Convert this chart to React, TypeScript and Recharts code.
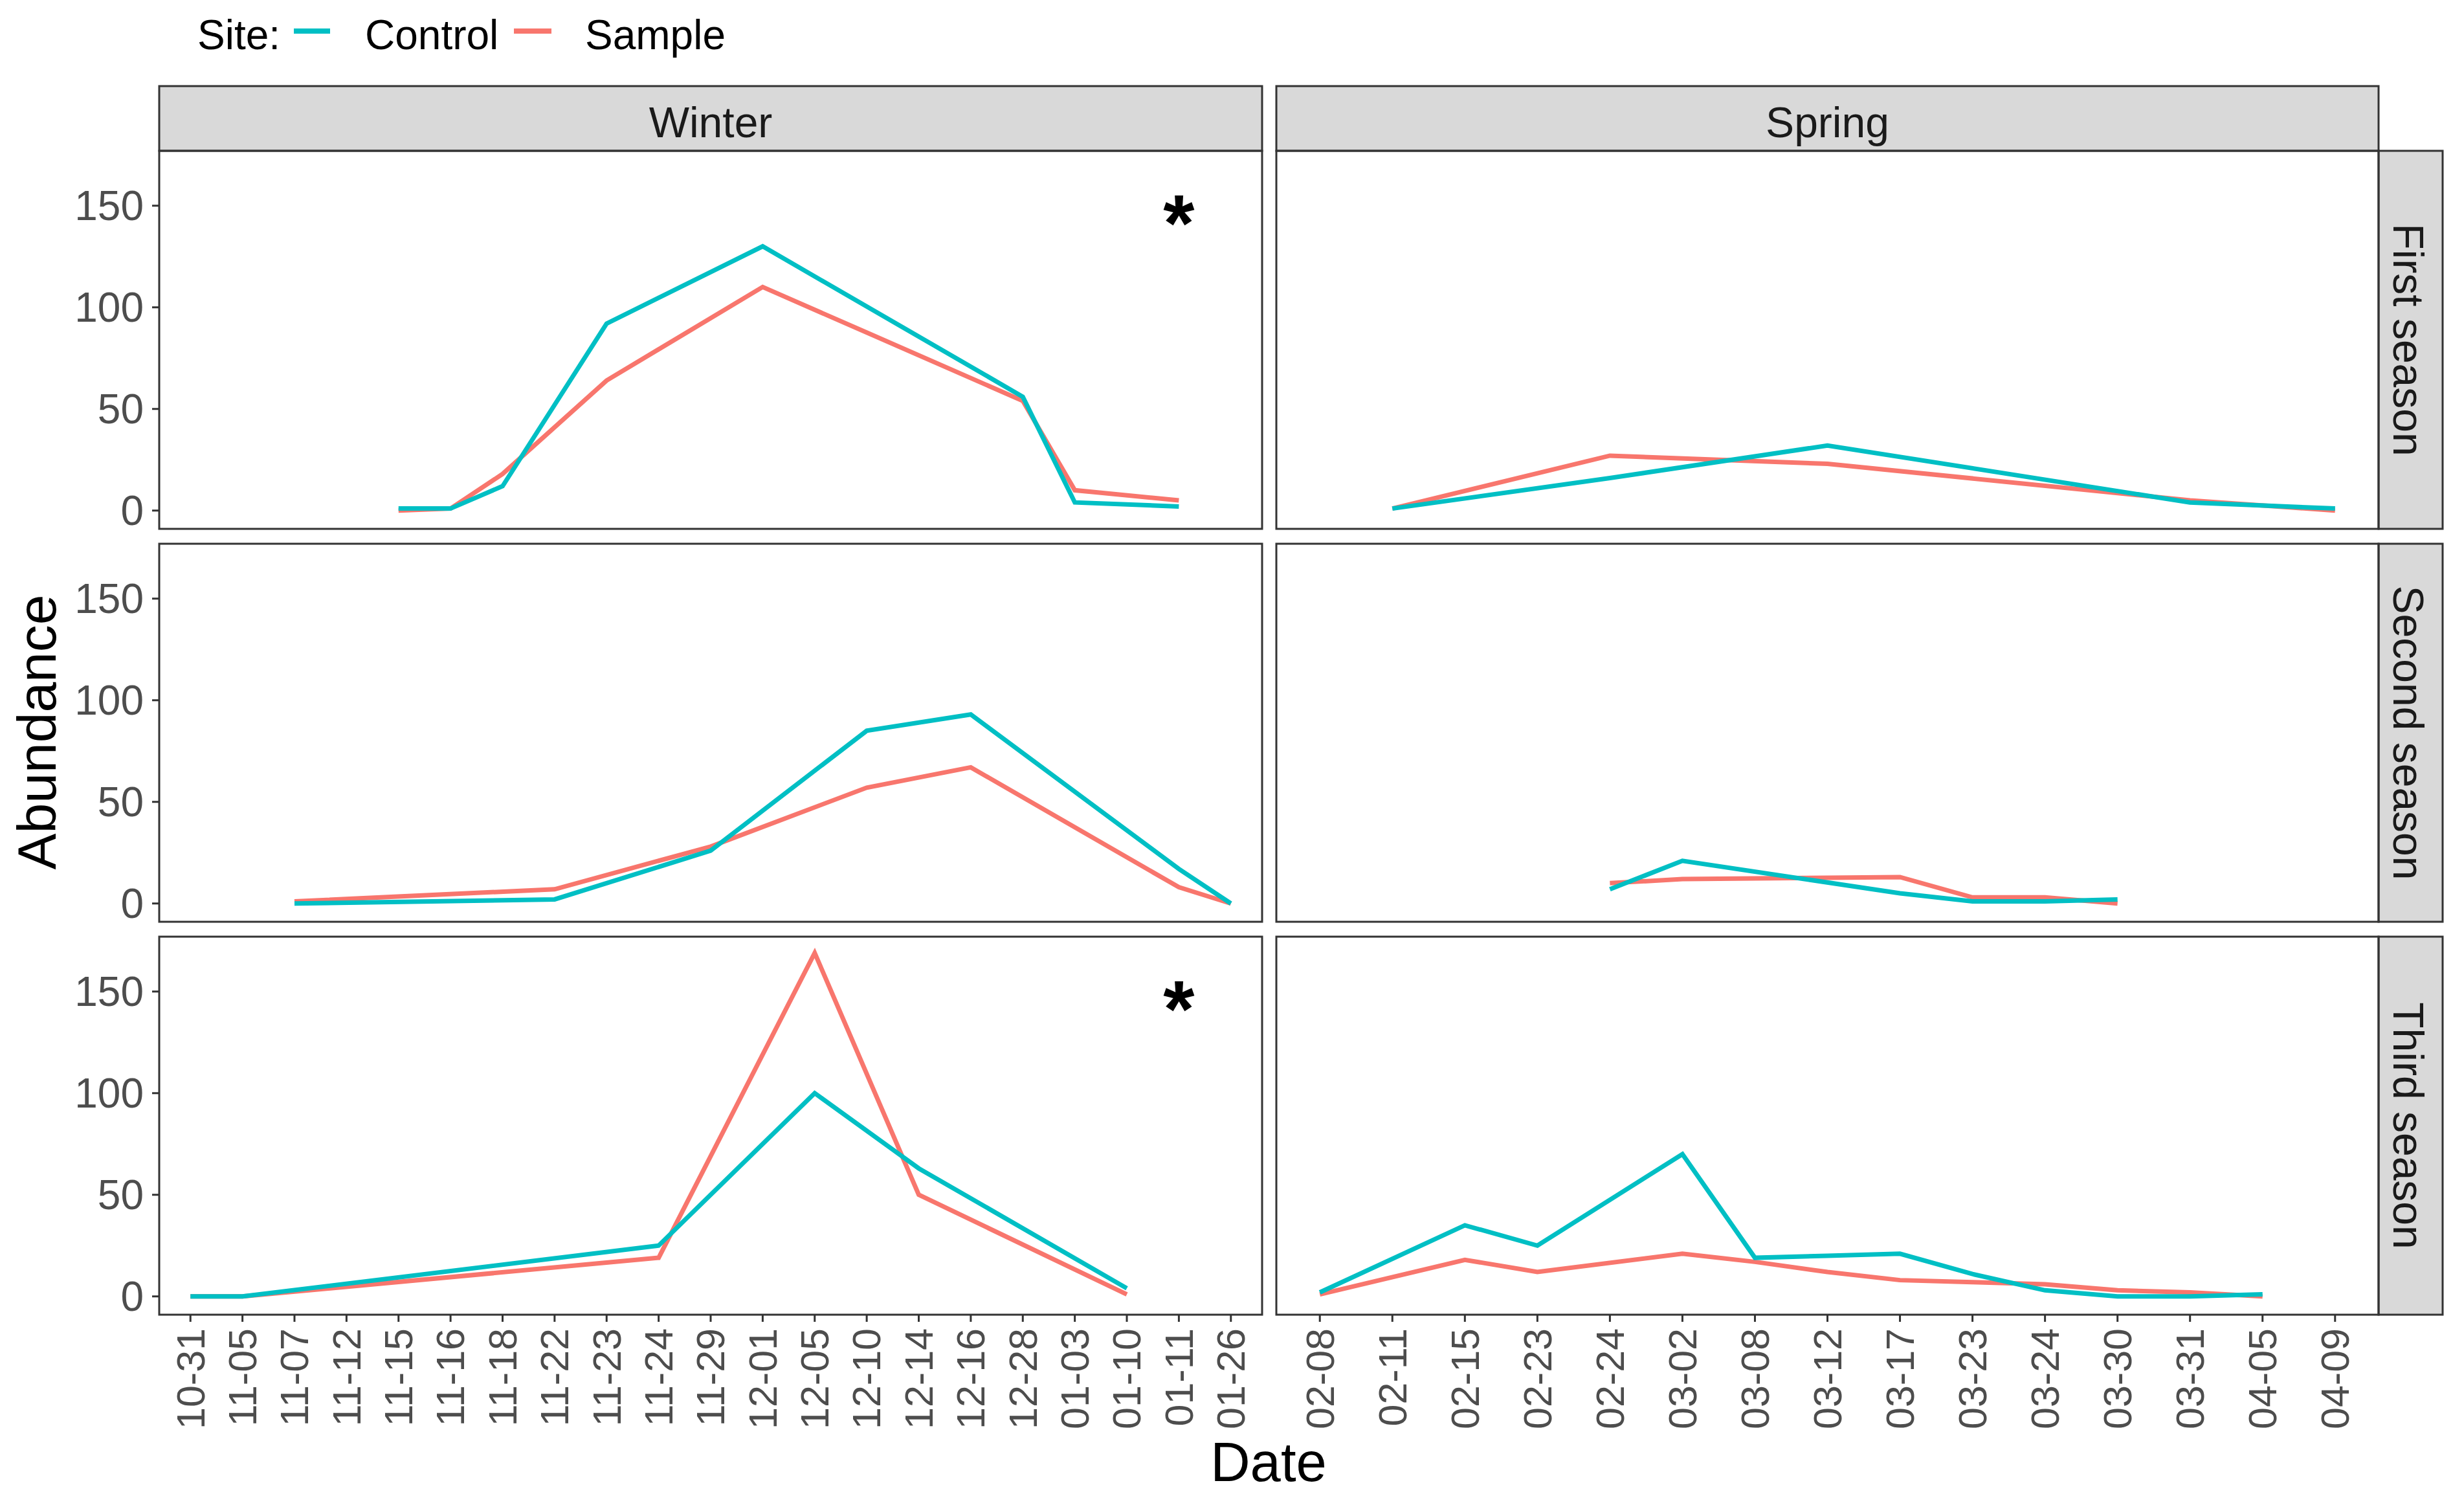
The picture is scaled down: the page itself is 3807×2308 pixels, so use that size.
import React from "react"
import { LineChart, Line, XAxis, YAxis, ReferenceDot } from "recharts"

// x categories for each column
const winterDates = ["10-31", "11-05", "11-07", "11-12", "11-15", "11-16", "11-18", "11-22", "11-23", "11-24", "11-29", "12-01", "12-05", "12-10", "12-14", "12-16", "12-28", "01-03", "01-10", "01-11", "01-26"]
const springDates = ["02-08", "02-11", "02-15", "02-23", "02-24", "03-02", "03-08", "03-12", "03-17", "03-23", "03-24", "03-30", "03-31", "04-05", "04-09"]

const yTicks = [0, 50, 100, 150]
const columnLabels = ["Winter", "Spring"]
const rowLabels = ["First season", "Second season", "Third season"]

// Winter, first season
const winterFirstDates = ["11-15", "11-16", "11-18", "11-23", "12-01", "12-28", "01-03", "01-11"]
const winterFirstControl = [1, 1, 12, 92, 130, 56, 4, 2]
const winterFirstSample = [0, 1, 18, 64, 110, 54, 10, 5]

// Winter, second season
const winterSecondDates = ["11-07", "11-22", "11-29", "12-10", "12-16", "01-11", "01-26"]
const winterSecondControl = [0, 2, 26, 85, 93, 17, 0]
const winterSecondSample = [1, 7, 28, 57, 67, 8, 0]

// Winter, third season
const winterThirdDates = ["10-31", "11-05", "11-24", "12-05", "12-14", "01-10"]
const winterThirdControl = [0, 0, 25, 100, 63, 4]
const winterThirdSample = [0, 0, 19, 169, 50, 1]

// Spring, first season
const springFirstDates = ["02-11", "02-24", "03-12", "03-31", "04-09"]
const springFirstControl = [1, 16, 32, 4, 1]
const springFirstSample = [1, 27, 23, 5, 0]

// Spring, second season
const springSecondDates = ["02-24", "03-02", "03-17", "03-23", "03-24", "03-30"]
const springSecondControl = [7, 21, 5, 1, 1, 2]
const springSecondSample = [10, 12, 13, 3, 3, 0]

// Spring, third season
const springThirdDates = ["02-08", "02-15", "02-23", "03-02", "03-08", "03-12", "03-17", "03-23", "03-24", "03-30", "03-31", "04-05"]
const springThirdControl = [2, 35, 25, 70, 19, 20, 21, 11, 3, 0, 0, 1]
const springThirdSample = [1, 18, 12, 21, 17, 12, 8, 7, 6, 3, 2, 0]

// panels with an asterisk (winter column)
const starDate = "01-11"
const starValue = 146

const CONTROL = "#00BFC4"
const SAMPLE = "#F8766D"
const FONT = '"Liberation Sans", Arial, sans-serif'

const panelLeft = [246, 1972]
const panelRight = [1950, 3675]
const panelTop = [233, 840, 1447]
const PANEL_H = 584
const XAXIS_H = 210
const PAD_BOTTOM = 40
const STRIP_TOP = 133
const STRIP_RIGHT = 3774

function buildData(axisDates, dates, control, sample) {
  return axisDates.map((d, i) => {
    const k = dates.indexOf(d)
    return { i, date: d, control: k >= 0 ? control[k] : null, sample: k >= 0 ? sample[k] : null }
  })
}

const panels = [
  { row: 0, col: 0, data: buildData(winterDates, winterFirstDates, winterFirstControl, winterFirstSample), star: true },
  { row: 0, col: 1, data: buildData(springDates, springFirstDates, springFirstControl, springFirstSample), star: false },
  { row: 1, col: 0, data: buildData(winterDates, winterSecondDates, winterSecondControl, winterSecondSample), star: false },
  { row: 1, col: 1, data: buildData(springDates, springSecondDates, springSecondControl, springSecondSample), star: false },
  { row: 2, col: 0, data: buildData(winterDates, winterThirdDates, winterThirdControl, winterThirdSample), star: true },
  { row: 2, col: 1, data: buildData(springDates, springThirdDates, springThirdControl, springThirdSample), star: false },
]

function XTick(props) {
  const { x, y, payload, labels } = props
  return (
    <g transform={`translate(${x},${y})`}>
      <text transform="rotate(-90)" x={-8} y={0} dy="0.35em" textAnchor="end" fontSize={61} fill="#4D4D4D" fontFamily={FONT}>
        {labels[payload.value]}
      </text>
    </g>
  )
}

function Star(props) {
  const { cx, cy } = props
  if (cx == null || cy == null) return null
  return (
    <text x={cx} y={cy + 58} textAnchor="middle" fontSize={124} fontWeight="bold" fill="#000" fontFamily={FONT}>
      *
    </text>
  )
}

function Panel({ row, col, data, star }) {
  const dates = col === 0 ? winterDates : springDates
  const left = col === 0 ? 0 : panelLeft[1]
  const width = panelRight[col] - left
  const bottomRow = row === 2
  const height = PANEL_H + (bottomRow ? XAXIS_H : PAD_BOTTOM)
  const ticks = dates.map((_, i) => i)
  return (
    <div style={{ position: "absolute", left, top: panelTop[row] }}>
      <LineChart width={width} height={height} data={data} margin={{ top: 0, right: 0, bottom: bottomRow ? 0 : PAD_BOTTOM, left: 0 }}>
        <XAxis
          dataKey="i"
          type="number"
          domain={[-0.6, dates.length - 0.4]}
          ticks={ticks}
          interval={0}
          allowDataOverflow
          hide={!bottomRow}
          height={XAXIS_H}
          axisLine={false}
          tickSize={11}
          tickLine={{ stroke: "#333333", strokeWidth: 3 }}
          tick={<XTick labels={dates} />}
        />
        <YAxis
          type="number"
          domain={[-9, 177]}
          ticks={yTicks}
          interval={0}
          allowDataOverflow
          hide={col !== 0}
          width={panelLeft[0]}
          axisLine={false}
          tickSize={11}
          tickMargin={13}
          tickLine={{ stroke: "#333333", strokeWidth: 3 }}
          tick={{ fontSize: 64, fill: "#4D4D4D", fontFamily: FONT }}
        />
        <Line type="linear" dataKey="sample" stroke={SAMPLE} strokeWidth={7} dot={false} connectNulls isAnimationActive={false} />
        <Line type="linear" dataKey="control" stroke={CONTROL} strokeWidth={7} dot={false} connectNulls isAnimationActive={false} />
        {star && <ReferenceDot x={dates.indexOf(starDate)} y={starValue} r={0} shape={<Star />} />}
      </LineChart>
    </div>
  )
}

export default function App() {
  return (
    <div style={{ position: "absolute", left: 0, top: 0, width: 3807, height: 2308, background: "#fff", fontFamily: FONT }}>
      {panels.map((p) => (
        <Panel key={`${p.row}-${p.col}`} {...p} />
      ))}
      <svg width={3807} height={2308} style={{ position: "absolute", left: 0, top: 0, pointerEvents: "none" }}>
        {/* legend */}
        <text x={305} y={76} fontSize={64} fill="#000" fontFamily={FONT}>Site:</text>
        <line x1={454} x2={510} y1={48} y2={48} stroke={CONTROL} strokeWidth={8} />
        <text x={564} y={76} fontSize={64} fill="#000" fontFamily={FONT}>Control</text>
        <line x1={794} x2={852} y1={48} y2={48} stroke={SAMPLE} strokeWidth={8} />
        <text x={904} y={76} fontSize={64} fill="#000" fontFamily={FONT}>Sample</text>

        {/* column strips */}
        {columnLabels.map((lab, c) => (
          <g key={lab}>
            <rect x={panelLeft[c]} y={STRIP_TOP} width={panelRight[c] - panelLeft[c]} height={panelTop[0] - STRIP_TOP} fill="#D9D9D9" stroke="#333333" strokeWidth={3} />
            <text x={(panelLeft[c] + panelRight[c]) / 2} y={212} textAnchor="middle" fontSize={66} fill="#1A1A1A" fontFamily={FONT}>{lab}</text>
          </g>
        ))}

        {/* row strips */}
        {rowLabels.map((lab, r) => {
          const cy = panelTop[r] + PANEL_H / 2
          return (
            <g key={lab}>
              <rect x={panelRight[1]} y={panelTop[r]} width={STRIP_RIGHT - panelRight[1]} height={PANEL_H} fill="#D9D9D9" stroke="#333333" strokeWidth={3} />
              <text transform={`translate(3698,${cy}) rotate(90)`} textAnchor="middle" fontSize={66} fill="#1A1A1A" fontFamily={FONT}>{lab}</text>
            </g>
          )
        })}

        {/* panel borders */}
        {panelTop.map((t) =>
          [0, 1].map((c) => (
            <rect key={`${t}-${c}`} x={panelLeft[c]} y={t} width={panelRight[c] - panelLeft[c]} height={PANEL_H} fill="none" stroke="#333333" strokeWidth={3} />
          ))
        )}

        {/* axis titles */}
        <text transform="translate(86,1131) rotate(-90)" textAnchor="middle" fontSize={84} fill="#000" fontFamily={FONT}>Abundance</text>
        <text x={1960} y={2288} textAnchor="middle" fontSize={85} fill="#000" fontFamily={FONT}>Date</text>
      </svg>
    </div>
  )
}
